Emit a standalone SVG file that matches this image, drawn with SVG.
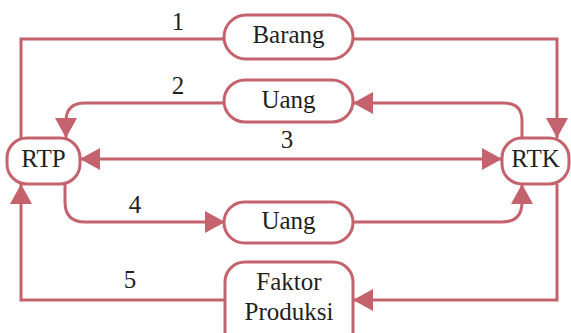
<svg xmlns="http://www.w3.org/2000/svg" width="571" height="333" viewBox="0 0 571 333">
<defs>
<marker id="ah" viewBox="0 0 20 22" refX="20" refY="11" markerWidth="20" markerHeight="22" markerUnits="userSpaceOnUse" orient="auto">
<path fill="#c4636d" d="M0,0 L20,11 L0,22 Z"/>
</marker>
<marker id="ahs" viewBox="0 0 20 22" refX="20" refY="11" markerWidth="20" markerHeight="22" markerUnits="userSpaceOnUse" orient="auto-start-reverse">
<path fill="#c4636d" d="M0,0 L20,11 L0,22 Z"/>
</marker>
</defs>
<rect width="571" height="333" fill="#fff"/>
<g id="connectors" fill="none" stroke="#c4636d" stroke-width="3">
<path d="M224,39 H21 V138"/>
<path d="M353,39 H557 V138" marker-end="url(#ah)"/>
<path d="M522,138 V121 Q522,103 504,103 H353" marker-end="url(#ah)"/>
<path d="M224,103 H85 Q66,103 66,121 V138" marker-end="url(#ah)"/>
<path d="M80,159 H502" marker-start="url(#ahs)" marker-end="url(#ah)"/>
<path d="M65,184 V202 Q65,222 85,222 H225" marker-end="url(#ah)"/>
<path d="M353,222 H502 Q522,222 522,202 V184" marker-end="url(#ah)"/>
<path d="M225,300 H21 V184" marker-end="url(#ah)"/>
<path d="M557,184 V300 H353" marker-end="url(#ah)"/>
</g>
<g id="label-1"><text x="178" y="30" font-size="25" font-family="Liberation Serif" text-anchor="middle" fill="#231f20">1</text></g>
<g id="label-2"><text x="178" y="94" font-size="25" font-family="Liberation Serif" text-anchor="middle" fill="#231f20">2</text></g>
<g id="label-3"><text x="287" y="148" font-size="25" font-family="Liberation Serif" text-anchor="middle" fill="#231f20">3</text></g>
<g id="label-4"><text x="135" y="213" font-size="25" font-family="Liberation Serif" text-anchor="middle" fill="#231f20">4</text></g>
<g id="label-5"><text x="130" y="288" font-size="25" font-family="Liberation Serif" text-anchor="middle" fill="#231f20">5</text></g>
<g id="barang"><rect fill="#fff" stroke="#c4636d" stroke-width="3" x="224" y="15" width="129" height="44" rx="22"/><text x="288.5" y="43" font-size="25" font-family="Liberation Serif" text-anchor="middle" fill="#231f20">Barang</text></g>
<g id="uang1"><rect fill="#fff" stroke="#c4636d" stroke-width="3" x="224" y="80" width="129" height="42" rx="21"/><text x="288.5" y="108" font-size="25" font-family="Liberation Serif" text-anchor="middle" fill="#231f20">Uang</text></g>
<g id="uang2"><rect fill="#fff" stroke="#c4636d" stroke-width="3" x="224" y="202" width="129" height="41" rx="20.5"/><text x="288.5" y="229" font-size="25" font-family="Liberation Serif" text-anchor="middle" fill="#231f20">Uang</text></g>
<g id="faktor"><rect fill="#fff" stroke="#c4636d" stroke-width="3" x="225" y="262" width="128" height="90" rx="20"/><text x="289" y="290" font-size="25" font-family="Liberation Serif" text-anchor="middle" fill="#231f20">Faktor</text><text x="289" y="320" font-size="25" font-family="Liberation Serif" text-anchor="middle" fill="#231f20">Produksi</text></g>
<g id="rtp"><rect fill="#fff" stroke="#c4636d" stroke-width="3" x="7" y="138" width="73" height="46" rx="20"/><text x="43.5" y="167" font-size="25" font-family="Liberation Serif" text-anchor="middle" fill="#231f20">RTP</text></g>
<g id="rtk"><rect fill="#fff" stroke="#c4636d" stroke-width="3" x="502" y="138" width="67" height="46" rx="20"/><text x="535.5" y="167" font-size="25" font-family="Liberation Serif" text-anchor="middle" fill="#231f20">RTK</text></g>
</svg>
